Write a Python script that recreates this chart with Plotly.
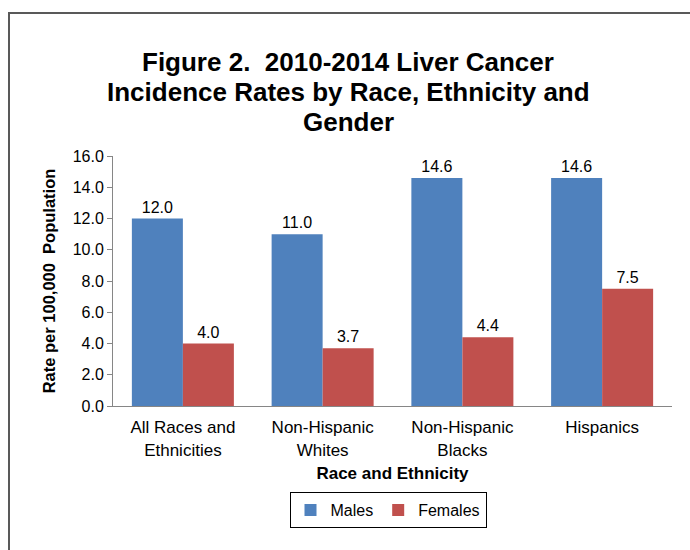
import plotly.graph_objects as go

categories = ["All Races and<br>Ethnicities", "Non-Hispanic<br>Whites", "Non-Hispanic<br>Blacks", "Hispanics"]
males = [12.0, 11.0, 14.6, 14.6]
females = [4.0, 3.7, 4.4, 7.5]
y_ticks = [0, 2, 4, 6, 8, 10, 12, 14, 16]
title_lines = ["Figure 2.  2010-2014 Liver Cancer", "Incidence Rates by Race, Ethnicity and", "Gender"]

FONT = "Liberation Sans, Arial, sans-serif"

fig = go.Figure()
fig.add_trace(go.Bar(name="Males", x=categories, y=males, marker=dict(color="#4F81BD", line=dict(width=0)),
                     text=[f"{v:.1f}" for v in males], textposition="outside",
                     textfont=dict(size=16, color="black", family=FONT), cliponaxis=False))
fig.add_trace(go.Bar(name="Females", x=categories, y=females, marker=dict(color="#C0504D", line=dict(width=0)),
                     text=[f"{v:.1f}" for v in females], textposition="outside",
                     textfont=dict(size=16, color="black", family=FONT), cliponaxis=False))

W, H = 690, 550
L, R, T, B = 113, 18, 156, 144
pw, ph = W - L - R, H - T - B

def px(x):
    return (x - L) / pw

def py(y):
    return (H - B - y) / ph

annotations = []
for i, line in enumerate(title_lines):
    annotations.append(dict(text=f"<b>{line}</b>", xref="paper", yref="paper", x=px(348), y=py(62 + 30 * i),
                            xanchor="center", yanchor="middle", showarrow=False,
                            font=dict(size=26, family=FONT, color="black")))

fig.update_layout(
    width=W, height=H,
    margin=dict(l=L, r=R, t=T, b=B),
    paper_bgcolor="white", plot_bgcolor="white",
    barmode="group", bargap=0.27, bargroupgap=0,
    font=dict(family=FONT, color="black", size=16),
    annotations=annotations,
    xaxis=dict(showline=True, linecolor="#868686", linewidth=1, ticks="", ticklabelstandoff=6,
               tickfont=dict(size=17, family=FONT, color="black"),
               title=dict(text="<b>Race and Ethnicity</b>", font=dict(size=17, family=FONT, color="black"), standoff=8)),
    yaxis=dict(range=[0, 16], tickvals=y_ticks, tickformat=".1f", showgrid=False, zeroline=False,
               showline=True, linecolor="#868686", linewidth=1, ticks="outside", ticklen=5, tickcolor="#868686",
               tickfont=dict(size=16, family=FONT, color="black"),
               title=dict(text="<b>Rate per 100,000  Population</b>", font=dict(size=16.5, family=FONT, color="black"), standoff=12)),
    legend=dict(orientation="h", x=px(388), xanchor="center", y=py(492), yanchor="top",
                bordercolor="black", borderwidth=1, bgcolor="white",
                font=dict(size=16, family=FONT, color="black"), itemwidth=30, traceorder="normal"),
    shapes=[dict(type="rect", xref="paper", yref="paper", x0=px(9), x1=px(720), y0=py(13), y1=py(580),
                 line=dict(color="#595959", width=2), fillcolor="rgba(0,0,0,0)", layer="below")],
)

fig.write_html("out.html", post_script="document.body.style.margin='0px';", config={"displayModeBar": False})
